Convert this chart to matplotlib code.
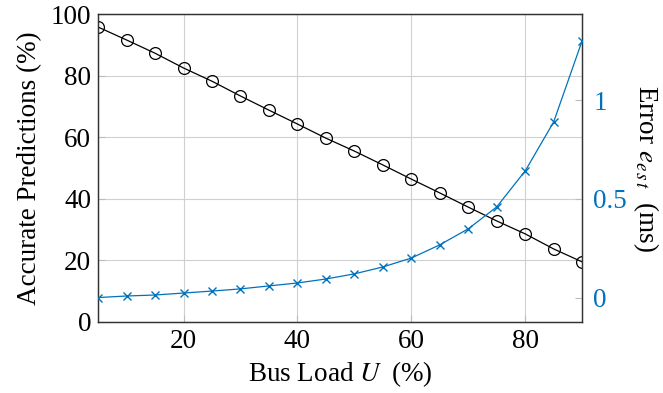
import matplotlib.pyplot as plt

plt.rcParams['font.family'] = ['Liberation Serif', 'DejaVu Serif']
plt.rcParams['mathtext.fontset'] = 'stix'

carga = [5, 10, 15, 20, 25, 30, 35, 40, 45, 50, 55, 60, 65, 70, 75, 80, 85, 90]
acertos = [95.8, 91.6, 87.3, 82.5, 78.2, 73.4, 68.8, 64.3, 59.7, 55.5,
           51.0, 46.4, 41.9, 37.3, 32.8, 28.6, 23.7, 19.5]
erro = [0.0, 0.008, 0.013, 0.023, 0.033, 0.044, 0.059, 0.074, 0.094, 0.12,
        0.155, 0.2, 0.267, 0.348, 0.459, 0.641, 0.889, 1.30]

azul = '#0072BD'
cinza = '#bbbbbb'
tam = 19.5

fig = plt.figure(figsize=(6.63, 3.93), dpi=100)
ax = fig.add_axes([0.148, 0.181, 0.730, 0.783])

ax.plot(carga, acertos, color='black', lw=0.9, marker='o', ms=8.5,
        mfc='none', mec='black', mew=0.9, zorder=3)
ax.set_xlim(5, 90)
ax.set_ylim(0, 100)
ax.set_xticks([20, 40, 60, 80])
ax.set_yticks([0, 20, 40, 60, 80, 100])
ax.grid(True, color='#d0d0d0', lw=0.8)
ax.tick_params(direction='in', labelsize=tam, color=cinza, length=5, pad=5)
ax.set_xlabel('Bus Load $U$\u2009 (%)', fontsize=tam, labelpad=4)
ax.set_ylabel('Accurate Predictions (%)', fontsize=tam, labelpad=6)

ax2 = ax.twinx()
ax2.plot(carga, erro, color=azul, lw=0.9, marker='x', ms=6, mew=1.0, zorder=3)
ax2.set_ylim(-0.123, 1.435)
ax2.set_yticks([0, 0.5, 1])
ax2.set_yticklabels(['0', '0.5', '1'])
ax2.tick_params(direction='in', labelsize=tam, color=cinza, labelcolor=azul,
                length=5, pad=8)
ax2.set_ylabel('Error $e_{e\\,s\\,t}$  (ms)', fontsize=tam, rotation=270,
               labelpad=24)

for a in (ax, ax2):
    for s in a.spines.values():
        s.set_color('#333333')
        s.set_linewidth(0.9)

fig.savefig('out.png', dpi=100)
